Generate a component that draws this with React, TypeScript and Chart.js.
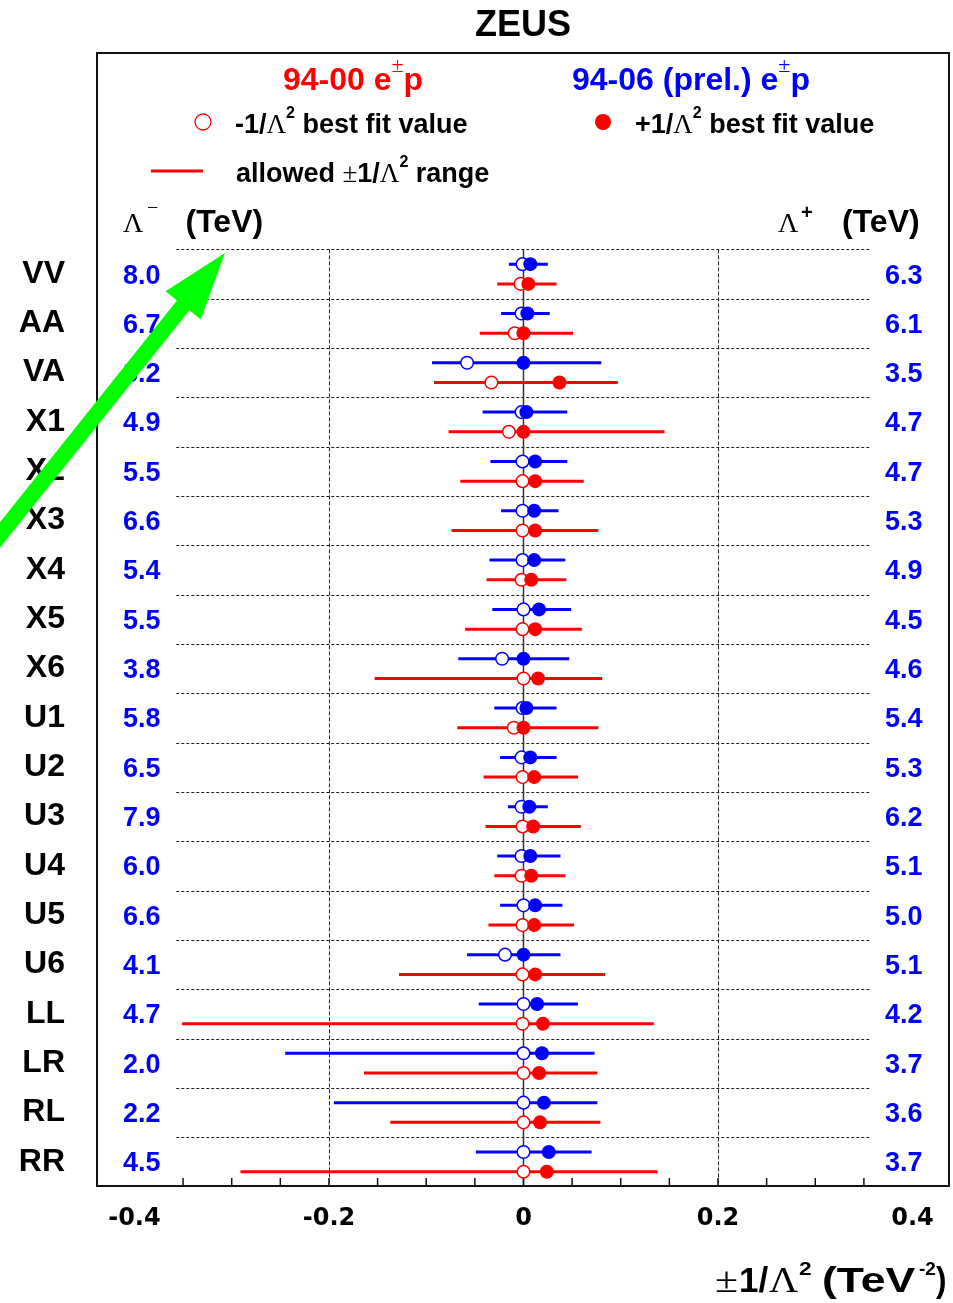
import React, { useEffect, useRef } from 'react';
import { Chart, registerables } from 'chart.js';

Chart.register(...registerables);

// ---------------- data ----------------
const CATEGORIES = ['VV', 'AA', 'VA', 'X1', 'X2', 'X3', 'X4', 'X5', 'X6', 'U1', 'U2', 'U3', 'U4', 'U5', 'U6', 'LL', 'LR', 'RL', 'RR'];
const LAMBDA_MINUS = ['8.0', '6.7', '3.2', '4.9', '5.5', '6.6', '5.4', '5.5', '3.8', '5.8', '6.5', '7.9', '6.0', '6.6', '4.1', '4.7', '2.0', '2.2', '4.5'];
const LAMBDA_PLUS = ['6.3', '6.1', '3.5', '4.7', '4.7', '5.3', '4.9', '4.5', '4.6', '5.4', '5.3', '6.2', '5.1', '5.0', '5.1', '4.2', '3.7', '3.6', '3.7'];

// 94-00 e±p (red)
const RED_LOW = [-0.027, -0.045, -0.092, -0.077, -0.065, -0.074, -0.038, -0.060, -0.153, -0.068, -0.041, -0.039, -0.030, -0.036, -0.128, -0.351, -0.164, -0.137, -0.291];
const RED_HIGH = [0.034, 0.051, 0.097, 0.145, 0.062, 0.077, 0.044, 0.060, 0.081, 0.077, 0.056, 0.059, 0.043, 0.052, 0.084, 0.134, 0.076, 0.079, 0.138];
const RED_MINUS_FIT = [-0.003, -0.009, -0.033, -0.015, -0.001, -0.001, -0.002, -0.001, 0.000, -0.010, -0.001, -0.001, -0.002, -0.001, -0.001, -0.001, 0.000, 0.000, 0.000];
const RED_PLUS_FIT = [0.005, 0.000, 0.037, 0.000, 0.012, 0.012, 0.008, 0.012, 0.015, 0.000, 0.011, 0.010, 0.008, 0.011, 0.012, 0.020, 0.016, 0.017, 0.024];

// 94-06 (prel.) e±p (blue)
const BLUE_LOW = [-0.015, -0.023, -0.094, -0.042, -0.034, -0.023, -0.035, -0.032, -0.067, -0.030, -0.024, -0.016, -0.027, -0.024, -0.058, -0.046, -0.245, -0.195, -0.049];
const BLUE_HIGH = [0.025, 0.027, 0.080, 0.045, 0.045, 0.036, 0.043, 0.049, 0.047, 0.034, 0.034, 0.025, 0.038, 0.040, 0.038, 0.056, 0.073, 0.076, 0.070];
const BLUE_MINUS_FIT = [-0.001, -0.002, -0.058, -0.002, -0.001, -0.001, -0.001, 0.000, -0.022, -0.001, -0.002, -0.002, -0.002, 0.000, -0.019, 0.000, 0.000, 0.000, 0.000];
const BLUE_PLUS_FIT = [0.007, 0.004, 0.000, 0.003, 0.012, 0.011, 0.011, 0.016, 0.000, 0.003, 0.007, 0.006, 0.007, 0.012, 0.000, 0.014, 0.019, 0.021, 0.026];

const X_TICKS = [-0.4, -0.2, 0, 0.2, 0.4];
const X_TICK_LABELS = ['-0.4', '-0.2', '0', '0.2', '0.4'];
const MINOR_TICKS = [-0.35, -0.3, -0.25, -0.2, -0.15, -0.1, -0.05, 0, 0.05, 0.1, 0.15, 0.2, 0.25, 0.3, 0.35];
const GRID_LINES = [-0.2, 0.2];
const SEPARATOR_RANGE = [-0.357, 0.357];

// ---------------- style ----------------
const RED = '#ff0000';
const BLUE = '#0000ff';
const SANS = '"Liberation Sans", Arial, Helvetica, sans-serif';
const SERIF = '"Liberation Serif", "Times New Roman", serif';
const BLUE_OFFSET = -0.2;
const RED_OFFSET = 0.2;

function rangePoints(lo: number[], hi: number[], off: number) {
  const pts: { x: number; y: number }[] = [];
  lo.forEach((l, i) => {
    pts.push({ x: l, y: i + off }, { x: hi[i], y: i + off }, { x: NaN, y: NaN });
  });
  return pts;
}
function fitPoints(vals: number[], off: number) {
  return vals.map((v, i) => ({ x: v, y: i + off }));
}

type Piece = { t: string; f: string; dy?: number };
function drawRich(ctx: CanvasRenderingContext2D, x: number, y: number, pieces: Piece[], color: string) {
  let cx = x;
  ctx.fillStyle = color;
  for (const p of pieces) {
    ctx.font = p.f;
    ctx.fillText(p.t, cx, y - (p.dy || 0));
    cx += ctx.measureText(p.t).width;
  }
  return cx;
}
function drawStretched(ctx: CanvasRenderingContext2D, t: string, f: string, x: number, y: number, sx: number) {
  ctx.save();
  ctx.translate(x, y);
  ctx.scale(sx, 1);
  ctx.font = f;
  ctx.fillText(t, 0, 0);
  ctx.restore();
}

const decorPlugin = {
  id: 'decor',
  beforeDatasetsDraw(chart: any) {
    const { ctx, chartArea: a, scales } = chart;
    const x = scales.x;
    const y = scales.y;
    ctx.save();
    // row separators
    ctx.strokeStyle = '#222';
    ctx.lineWidth = 1;
    ctx.setLineDash([3, 2]);
    const x0 = x.getPixelForValue(SEPARATOR_RANGE[0]);
    const x1 = x.getPixelForValue(SEPARATOR_RANGE[1]);
    for (let i = 0; i < CATEGORIES.length; i++) {
      const py = Math.round(y.getPixelForValue(i - 0.5)) + 0.5;
      ctx.beginPath();
      ctx.moveTo(x0, py);
      ctx.lineTo(x1, py);
      ctx.stroke();
    }
    const top = y.getPixelForValue(-0.5);
    // dashed verticals
    ctx.setLineDash([4, 2]);
    GRID_LINES.forEach((v) => {
      const px = Math.round(x.getPixelForValue(v)) + 0.5;
      ctx.beginPath();
      ctx.moveTo(px, top);
      ctx.lineTo(px, a.bottom);
      ctx.stroke();
    });
    ctx.setLineDash([]);
    // zero line
    ctx.strokeStyle = '#333';
    ctx.lineWidth = 1.5;
    const pz = x.getPixelForValue(0);
    ctx.beginPath();
    ctx.moveTo(pz, top);
    ctx.lineTo(pz, a.bottom);
    ctx.stroke();
    // bottom tick marks
    ctx.strokeStyle = '#111';
    ctx.lineWidth = 1.5;
    MINOR_TICKS.forEach((v) => {
      const px = x.getPixelForValue(v);
      ctx.beginPath();
      ctx.moveTo(px, a.bottom);
      ctx.lineTo(px, a.bottom - 8);
      ctx.stroke();
    });
    ctx.restore();
  },
  afterDraw(chart: any) {
    const { ctx, chartArea: a, scales } = chart;
    const y = scales.y;
    ctx.save();
    ctx.textAlign = 'left';
    ctx.textBaseline = 'alphabetic';

    // frame
    ctx.strokeStyle = '#111';
    ctx.lineWidth = 2;
    ctx.strokeRect(a.left, a.top, a.right - a.left, a.bottom - a.top);

    // title
    ctx.fillStyle = '#000';
    ctx.font = `bold 36px ${SANS}`;
    ctx.textAlign = 'center';
    ctx.fillText('ZEUS', 523, 36);
    ctx.textAlign = 'left';

    // legend headers
    drawRich(ctx, 283, 90, [
      { t: '94-00 e', f: `bold 32px ${SANS}` },
      { t: '±', f: `22px ${SERIF}`, dy: 18 },
      { t: 'p', f: `bold 32px ${SANS}` },
    ], RED);
    drawRich(ctx, 572, 90, [
      { t: '94-06 (prel.) e', f: `bold 32px ${SANS}` },
      { t: '±', f: `22px ${SERIF}`, dy: 18 },
      { t: 'p', f: `bold 32px ${SANS}` },
    ], BLUE);

    // legend row 1
    ctx.strokeStyle = RED;
    ctx.lineWidth = 1.3;
    ctx.beginPath();
    ctx.arc(203, 122, 8, 0, Math.PI * 2);
    ctx.stroke();
    drawRich(ctx, 235, 132.5, [
      { t: '-1/', f: `bold 27px ${SANS}` },
      { t: 'Λ', f: `27px ${SERIF}` },
      { t: '2', f: `bold 16px ${SANS}`, dy: 15 },
      { t: ' best fit value', f: `bold 27px ${SANS}` },
    ], '#000');
    ctx.fillStyle = RED;
    ctx.beginPath();
    ctx.arc(603, 122, 8, 0, Math.PI * 2);
    ctx.fill();
    drawRich(ctx, 635, 132.5, [
      { t: '+1/', f: `bold 27px ${SANS}` },
      { t: 'Λ', f: `27px ${SERIF}` },
      { t: '2', f: `bold 16px ${SANS}`, dy: 15 },
      { t: ' best fit value', f: `bold 27px ${SANS}` },
    ], '#000');

    // legend row 2
    ctx.strokeStyle = RED;
    ctx.lineWidth = 3;
    ctx.beginPath();
    ctx.moveTo(151, 171);
    ctx.lineTo(203, 171);
    ctx.stroke();
    drawRich(ctx, 236, 181.7, [
      { t: 'allowed ', f: `bold 27px ${SANS}` },
      { t: '±', f: `27px ${SERIF}` },
      { t: '1/', f: `bold 27px ${SANS}` },
      { t: 'Λ', f: `27px ${SERIF}` },
      { t: '2', f: `bold 16px ${SANS}`, dy: 15 },
      { t: ' range', f: `bold 27px ${SANS}` },
    ], '#000');

    // column headers
    ctx.fillStyle = '#000';
    ctx.font = `28px ${SERIF}`;
    ctx.fillText('Λ', 123, 232);
    ctx.font = `20px ${SERIF}`;
    ctx.fillText('−', 147, 214);
    ctx.font = `bold 32px ${SANS}`;
    ctx.fillText('(TeV)', 185.5, 232);
    ctx.font = `28px ${SERIF}`;
    ctx.fillText('Λ', 778, 232);
    ctx.font = `bold 20px ${SANS}`;
    ctx.fillText('+', 801, 219);
    ctx.font = `bold 32px ${SANS}`;
    ctx.fillText('(TeV)', 842, 232);

    // lambda limits
    ctx.fillStyle = BLUE;
    ctx.font = `bold 27px ${SANS}`;
    CATEGORIES.forEach((_, i) => {
      const py = y.getPixelForValue(i) + 9.5;
      ctx.fillText(LAMBDA_MINUS[i], 123, py);
      ctx.fillText(LAMBDA_PLUS[i], 885, py);
    });

    // x-axis title
    ctx.fillStyle = '#000';
    const base = 1292;
    drawStretched(ctx, '±', `35px ${SERIF}`, 715, base, 1.2);
    drawStretched(ctx, '1/', `bold 35px ${SANS}`, 739, base, 1.0);
    drawStretched(ctx, 'Λ', `35px ${SERIF}`, 769, base, 1.15);
    drawStretched(ctx, '2', `bold 19px ${SANS}`, 799, base - 17, 1.2);
    drawStretched(ctx, '(TeV', `bold 35px ${SANS}`, 822, base, 1.27);
    drawStretched(ctx, '-2', `bold 19px ${SANS}`, 919, base - 17, 1.0);
    drawStretched(ctx, ')', `bold 35px ${SANS}`, 936, base, 0.9);

    // green arrow annotation
    const tip = [225, 253];
    const tail = [-12, 550];
    const dx = tip[0] - tail[0];
    const dyy = tip[1] - tail[1];
    const len = Math.hypot(dx, dyy);
    const ux = dx / len, uy = dyy / len;
    const nx = -uy, ny = ux;
    const headLen = 67, headHalf = 22.5, shaftHalf = 8;
    const bx = tip[0] - ux * headLen, by = tip[1] - uy * headLen;
    ctx.fillStyle = '#00ff00';
    ctx.beginPath();
    ctx.moveTo(tail[0] + nx * shaftHalf, tail[1] + ny * shaftHalf);
    ctx.lineTo(bx + nx * shaftHalf, by + ny * shaftHalf);
    ctx.lineTo(bx + nx * headHalf, by + ny * headHalf);
    ctx.lineTo(tip[0], tip[1]);
    ctx.lineTo(bx - nx * headHalf, by - ny * headHalf);
    ctx.lineTo(bx - nx * shaftHalf, by - ny * shaftHalf);
    ctx.lineTo(tail[0] - nx * shaftHalf, tail[1] - ny * shaftHalf);
    ctx.closePath();
    ctx.fill();

    ctx.restore();
  },
};

export default function App() {
  const canvasRef = useRef<HTMLCanvasElement | null>(null);

  useEffect(() => {
    const canvas = canvasRef.current;
    if (!canvas) return;
    const chart = new Chart(canvas, {
      type: 'scatter',
      data: {
        datasets: [
          {
            label: '94-06 range',
            data: rangePoints(BLUE_LOW, BLUE_HIGH, BLUE_OFFSET),
            showLine: true,
            spanGaps: false,
            borderColor: BLUE,
            borderWidth: 3,
            borderCapStyle: 'butt',
            pointRadius: 0,
            order: 3,
          } as any,
          {
            label: '94-00 range',
            data: rangePoints(RED_LOW, RED_HIGH, RED_OFFSET),
            showLine: true,
            spanGaps: false,
            borderColor: RED,
            borderWidth: 3,
            borderCapStyle: 'butt',
            pointRadius: 0,
            order: 3,
          } as any,
          {
            label: '94-06 -1/Λ² fit',
            data: fitPoints(BLUE_MINUS_FIT, BLUE_OFFSET),
            pointRadius: 6.3,
            pointBackgroundColor: '#ffffff',
            pointBorderColor: BLUE,
            pointBorderWidth: 1.5,
            order: 2,
          },
          {
            label: '94-00 -1/Λ² fit',
            data: fitPoints(RED_MINUS_FIT, RED_OFFSET),
            pointRadius: 6.3,
            pointBackgroundColor: '#ffffff',
            pointBorderColor: RED,
            pointBorderWidth: 1.5,
            order: 2,
          },
          {
            label: '94-06 +1/Λ² fit',
            data: fitPoints(BLUE_PLUS_FIT, BLUE_OFFSET),
            pointRadius: 7,
            pointBackgroundColor: BLUE,
            pointBorderColor: BLUE,
            pointBorderWidth: 0,
            order: 1,
          },
          {
            label: '94-00 +1/Λ² fit',
            data: fitPoints(RED_PLUS_FIT, RED_OFFSET),
            pointRadius: 7,
            pointBackgroundColor: RED,
            pointBorderColor: RED,
            pointBorderWidth: 0,
            order: 1,
          },
        ],
      },
      options: {
        animation: false,
        responsive: false,
        events: [],
        layout: { autoPadding: false, padding: { top: 53, right: 4, left: 0, bottom: 0 } },
        plugins: {
          legend: { display: false },
          tooltip: { enabled: false },
          title: { display: false },
        },
        scales: {
          x: {
            type: 'linear',
            min: -0.4385,
            max: 0.4375,
            grid: { display: false, drawTicks: false },
            border: { display: false },
            afterBuildTicks: (scale: any) => {
              scale.ticks = X_TICKS.map((v) => ({ value: v }));
            },
            afterFit: (scale: any) => {
              scale.height = 117;
              scale.paddingLeft = 0;
              scale.paddingRight = 0;
            },
            ticks: {
              autoSkip: false,
              maxRotation: 0,
              padding: 18,
              color: '#000',
              font: { family: '"DejaVu Sans", sans-serif', size: 24, weight: 'bold' },
              callback: (_v: any, i: number) => X_TICK_LABELS[i],
            },
          },
          y: {
            type: 'linear',
            reverse: true,
            min: -4.481,
            max: 18.49,
            grid: { display: false, drawTicks: false },
            border: { display: false },
            afterBuildTicks: (scale: any) => {
              scale.ticks = CATEGORIES.map((_, i) => ({ value: i }));
            },
            afterFit: (scale: any) => {
              scale.width = 97;
              scale.paddingTop = 0;
              scale.paddingBottom = 0;
            },
            ticks: {
              autoSkip: false,
              padding: 32,
              color: '#000',
              font: { family: SANS, size: 32, weight: 'bold' },
              callback: (v: any) => CATEGORIES[v as number] ?? '',
            },
          },
        },
      },
      plugins: [decorPlugin],
    });
    return () => chart.destroy();
  }, []);

  return (
    <div style={{ position: 'absolute', left: 0, top: 0, width: 953, height: 1303, background: '#fff' }}>
      <canvas ref={canvasRef} width={953} height={1303} style={{ display: 'block' }} />
    </div>
  );
}
